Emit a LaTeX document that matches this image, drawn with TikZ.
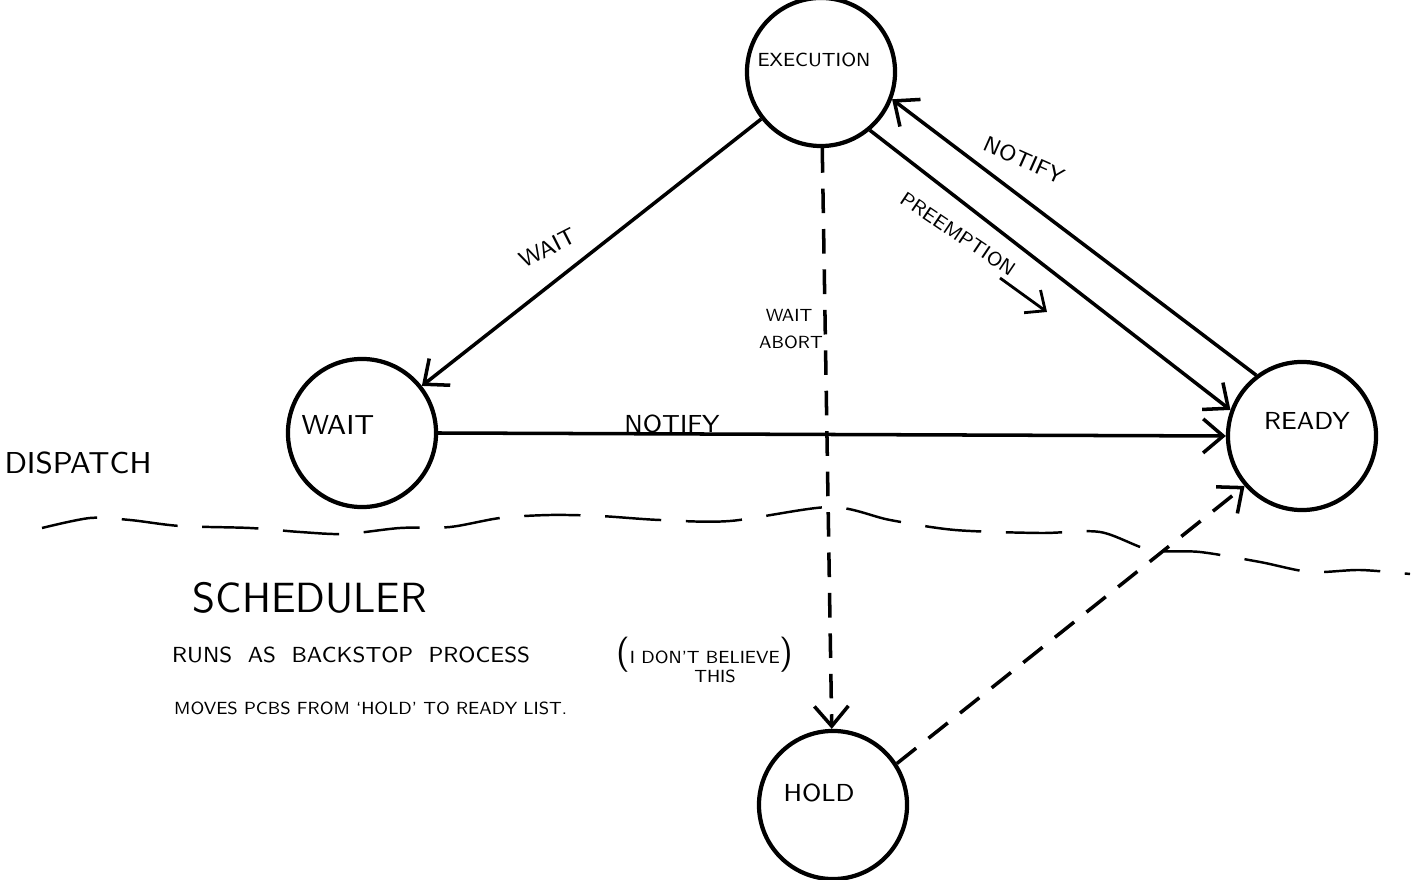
\documentclass[tikz,border=0pt]{standalone}
\usepackage{tikz}
\usetikzlibrary{arrows.meta,positioning,calc}

\begin{document}
\begin{tikzpicture}[x=0.01cm, y=-0.01cm,
    state/.style={draw, circle, line width=1.2pt, minimum size=1.48cm, inner sep=0pt},
    hand/.style={font=\sffamily\scriptsize, inner sep=1pt},
    flow/.style={line width=1pt, -{Straight Barb[length=2mm, width=3.4mm, line width=1pt]}},
    dashflow/.style={flow, dash pattern=on 7pt off 4.5pt}]
    \useasboundingbox (0,0) rectangle (1413,880);

    % States
    \node[state] (exe) at (821,72) {};
    \node[state] (wait) at (362,433) {};
    \node[state] (ready) at (1302,436) {};
    \node[state] (hold) at (833,805) {};

    \node[hand, font=\sffamily\fontsize{5.4}{6}\selectfont] (exetxt) at (814,60) {EXECUTION};
    \node[hand, font=\sffamily\fontsize{7.8}{9}\selectfont] (waittxt) at (338,425) {WAIT};
    \node[hand] (readytxt) at (1307,421) {READY};
    \node[hand] (holdtxt) at (819,793) {HOLD};

    % Transitions
    \draw[flow] (exe) -- (wait);
    \draw[flow] (exe.-50) -- (ready.160);
    \draw[flow] (ready.127) -- (exe.-21);
    \draw[flow] (wait.east) -- (ready.west);
    \draw[dashflow] (exe) -- (hold);
    \draw[dashflow] (hold.33) -- (ready.221);

    % Transition labels
    \node[hand, rotate=27, font=\sffamily\fontsize{6.5}{7}\selectfont] (lwait) at (548,248) {WAIT};
    \node[hand, rotate=-34, font=\sffamily\fontsize{5.6}{6}\selectfont] (lpre) at (958,234) {PREEMPTION};
    \node[hand, rotate=-24, font=\sffamily\fontsize{6.3}{7}\selectfont] (lnote) at (1024,160) {NOTIFY};
    \node[hand] (lnotw) at (672,424) {NOTIFY};
    \node[hand, font=\sffamily\tiny] (lwait2) at (789,315) {WAIT};
    \node[hand, font=\sffamily\tiny] (labort) at (791,342) {ABORT};
    \coordinate (pa) at (1000,278);
    \coordinate (pb) at (1047,312);
    \draw[line width=0.8pt, -{Straight Barb[length=1.6mm, width=2.8mm]}] (pa) -- (pb);

    % Dispatch / scheduler border
    \draw[line width=0.7pt, dash pattern=on 16pt off 7pt, smooth] plot coordinates {
        (42,528) (90,518) (130,520) (180,526) (250,528) (300,532) (345,534)
        (400,528) (450,527) (500,518) (550,515) (600,516) (660,520) (730,521)
        (830,507) (890,520) (955,530) (1040,533) (1100,532) (1150,550)
        (1200,552) (1260,562) (1310,572) (1360,570) (1410,574)};

    \node[hand, font=\sffamily\fontsize{8.6}{10}\selectfont] (disp) at (78,463) {DISPATCH};
    \node[hand, font=\sffamily\large] (sched) at (310,598) {SCHEDULER};

    % Notes
    \node[hand, font=\sffamily\fontsize{6.2}{8}\selectfont, anchor=west] (runs) at (168,655) {RUNS\ \ AS\ \ BACKSTOP\ \ PROCESS};
    \node[hand, font=\sffamily\tiny, anchor=west] (believe) at (612,655) {\normalsize(\tiny I DON'T BELIEVE\normalsize)};
    \node[hand, font=\sffamily\tiny] (this) at (715,676) {THIS};
    \node[hand, font=\sffamily\tiny, anchor=west] (moves) at (170,708) {MOVES\ PCBS\ FROM\ `HOLD'\ TO\ READY LIST.};
\end{tikzpicture}
\end{document}
